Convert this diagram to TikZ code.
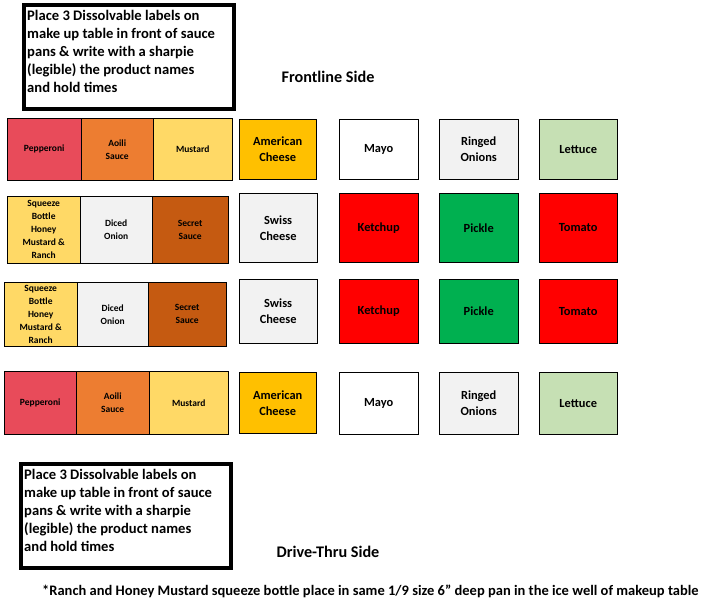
\documentclass[tikz,border=0pt]{standalone}
\usepackage{fontspec}
\setmainfont{Carlito}
\definecolor{pep}{HTML}{E84B5A}
\definecolor{aoi}{HTML}{ED7D31}
\definecolor{mus}{HTML}{FFD966}
\definecolor{amc}{HTML}{FFC000}
\definecolor{lgr}{HTML}{F2F2F2}
\definecolor{let}{HTML}{C6E0B4}
\definecolor{sec}{HTML}{C55A11}
\definecolor{kred}{HTML}{FF0000}
\definecolor{pgr}{HTML}{00B050}
\tikzset{
 sbox/.style={draw=black,thin,font=\bfseries\fontsize{9.5}{13}\selectfont,align=center,inner sep=0pt},
 bbox/.style={draw=black,thin,font=\bfseries\fontsize{12.4}{16}\selectfont,align=center,inner sep=0pt},
 note/.style={draw=black,line width=3.5pt,inner sep=0pt},
 ntext/.style={font=\bfseries\fontsize{14.6}{18}\selectfont,align=left,inner sep=0pt},
 title/.style={font=\bfseries\fontsize{16.2}{19}\selectfont}
}
\begin{document}
\begin{tikzpicture}[x=1pt,y=-1pt]
\useasboundingbox[fill=white] (0,0) rectangle (727,600);
\node[note,minimum width=210pt,minimum height=104pt,anchor=north west] (n1) at (22,3) {};
\node[ntext,anchor=north west] (t1) at (27,10) {Place 3 Dissolvable labels on\\make up table in front of sauce\\pans \& write with a sharpie\\(legible) the product names\\and hold times};
\node[note,minimum width=210pt,minimum height=104pt,anchor=north west] (n2) at (19,462) {};
\node[ntext,anchor=north west] (t2) at (24,469) {Place 3 Dissolvable labels on\\make up table in front of sauce\\pans \& write with a sharpie\\(legible) the product names\\and hold times};
\node[title] (fs) at (328,77) {Frontline Side};
\node[title] (ds) at (328,552) {Drive-Thru Side};
\node[font=\bfseries\fontsize{14.5}{17}\selectfont,anchor=west,inner sep=0pt] (fn) at (42,591) {*Ranch and Honey Mustard squeeze bottle place in same 1/9 size 6" deep pan in the ice well of makeup table};
% row1
\node[sbox,fill=pep,minimum width=74pt,minimum height=62pt,anchor=north west] (a1) at (7,118) {Pepperoni};
\node[sbox,fill=aoi,minimum width=72pt,minimum height=62pt,anchor=north west] (a2) at (81,118) {Aoili\\Sauce};
\node[sbox,fill=mus,minimum width=79pt,minimum height=62pt,anchor=north west] (a3) at (153,118) {Mustard};
% row2
\node[sbox,fill=mus,minimum width=73pt,minimum height=67pt,anchor=north west] (b1) at (7,196) {Squeeze\\Bottle\\Honey\\Mustard \&\\Ranch};
\node[sbox,fill=lgr,minimum width=72pt,minimum height=67pt,anchor=north west] (b2) at (80,196) {Diced\\Onion};
\node[sbox,fill=sec,minimum width=76pt,minimum height=67pt,anchor=north west] (b3) at (152,196) {Secret\\Sauce};
% row3
\node[sbox,fill=mus,minimum width=73pt,minimum height=64pt,anchor=north west] (c1) at (4,282) {Squeeze\\Bottle\\Honey\\Mustard \&\\Ranch};
\node[sbox,fill=lgr,minimum width=71pt,minimum height=64pt,anchor=north west] (c2) at (77,282) {Diced\\Onion};
\node[sbox,fill=sec,minimum width=78pt,minimum height=64pt,anchor=north west] (c3) at (148,282) {Secret\\Sauce};
% row4
\node[sbox,fill=pep,minimum width=72pt,minimum height=63pt,anchor=north west] (d1) at (4,371) {Pepperoni};
\node[sbox,fill=aoi,minimum width=73pt,minimum height=63pt,anchor=north west] (d2) at (76,371) {Aoili\\Sauce};
\node[sbox,fill=mus,minimum width=79pt,minimum height=63pt,anchor=north west] (d3) at (149,371) {Mustard};
% right boxes
\node[bbox,fill=amc,minimum width=77pt,minimum height=60pt,anchor=north west] (e1) at (239,119) {American\\Cheese};
\node[bbox,fill=white,minimum width=79pt,minimum height=60pt,anchor=north west] (e2) at (339,119) {Mayo};
\node[bbox,fill=lgr,minimum width=79pt,minimum height=60pt,anchor=north west] (e3) at (439,119) {Ringed\\Onions};
\node[bbox,fill=let,minimum width=78pt,minimum height=60pt,anchor=north west] (e4) at (539,119) {Lettuce};
\node[bbox,fill=lgr,minimum width=78pt,minimum height=69pt,anchor=north west] (f1) at (239,193) {Swiss\\Cheese};
\node[bbox,fill=kred,minimum width=79pt,minimum height=69pt,anchor=north west] (f2) at (339,193) {Ketchup};
\node[bbox,fill=pgr,minimum width=79pt,minimum height=69pt,anchor=north west] (f3) at (439,193) {Pickle};
\node[bbox,fill=kred,minimum width=78pt,minimum height=69pt,anchor=north west] (f4) at (539,193) {Tomato};
\node[bbox,fill=lgr,minimum width=78pt,minimum height=64pt,anchor=north west] (g1) at (239,279) {Swiss\\Cheese};
\node[bbox,fill=kred,minimum width=79pt,minimum height=64pt,anchor=north west] (g2) at (339,279) {Ketchup};
\node[bbox,fill=pgr,minimum width=79pt,minimum height=64pt,anchor=north west] (g3) at (439,279) {Pickle};
\node[bbox,fill=kred,minimum width=78pt,minimum height=64pt,anchor=north west] (g4) at (539,279) {Tomato};
\node[bbox,fill=amc,minimum width=77pt,minimum height=61pt,anchor=north west] (h1) at (239,372) {American\\Cheese};
\node[bbox,fill=white,minimum width=79pt,minimum height=62pt,anchor=north west] (h2) at (339,372) {Mayo};
\node[bbox,fill=lgr,minimum width=79pt,minimum height=62pt,anchor=north west] (h3) at (439,372) {Ringed\\Onions};
\node[bbox,fill=let,minimum width=78pt,minimum height=62pt,anchor=north west] (h4) at (539,372) {Lettuce};
\end{tikzpicture}
\end{document}
